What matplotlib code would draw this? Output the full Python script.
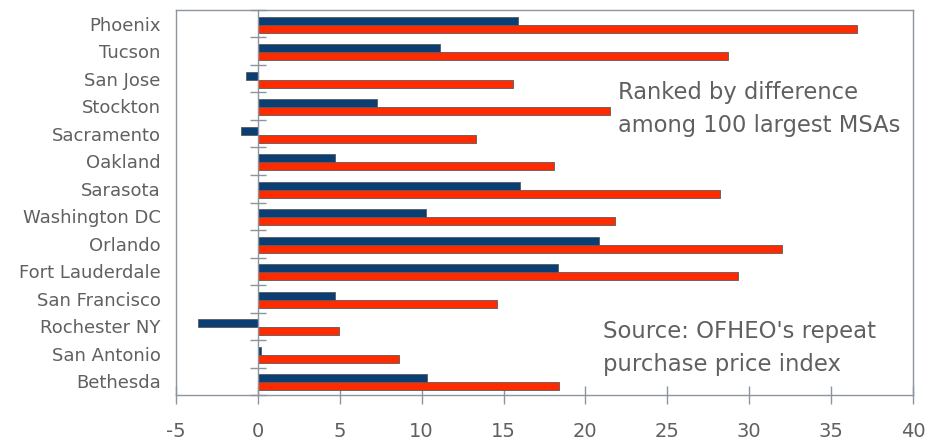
import numpy as np
import matplotlib
matplotlib.use("Agg")
import matplotlib.pyplot as plt

# ====== データ ======
cities = ["Phoenix", "Tucson", "San Jose", "Stockton", "Sacramento", "Oakland",
          "Sarasota", "Washington DC", "Orlando", "Fort Lauderdale",
          "San Francisco", "Rochester NY", "San Antonio", "Bethesda"]
blue_vals = [15.9, 11.1, -0.75, 7.3, -1.0, 4.7, 16.0, 10.25, 20.8, 18.3,
             4.7, -3.65, 0.2, 10.35]
red_vals = [36.6, 28.7, 15.6, 21.5, 13.3, 18.1, 28.2, 21.8, 32.0, 29.3,
            14.6, 4.95, 8.6, 18.4]
xticks = [-5, 0, 5, 10, 15, 20, 25, 30, 35, 40]

# ====== スタイル ======
BLUE = "#0B3F73"
RED = "#FF2B00"
EDGE = "#5a5a5a"
AXIS = "#8C949E"
TEXT = "#606060"
BAR_H = 0.29

fig = plt.figure(figsize=(9.3, 4.42), dpi=100)
ax = fig.add_axes([0.1892, 0.1063, 0.7925, 0.8711])

y = np.arange(len(cities))
ax.barh(y - BAR_H / 2 + 0.03, blue_vals, height=BAR_H, color=BLUE,
        edgecolor=EDGE, linewidth=0.6, zorder=3)
ax.barh(y + BAR_H / 2 + 0.03, red_vals, height=BAR_H, color=RED,
        edgecolor=EDGE, linewidth=0.6, zorder=3)

ax.set_xlim(-5, 40)
ax.set_ylim(len(cities) - 0.5, -0.5)
ax.set_xticks(xticks)
ax.set_xticklabels([str(v) for v in xticks])
ax.set_yticks(y)
ax.set_yticklabels(cities)

for s in ax.spines.values():
    s.set_color(AXIS)
    s.set_linewidth(1.0)

ax.tick_params(axis="y", length=0, pad=11, labelsize=13, labelcolor=TEXT)
ax.tick_params(axis="x", direction="inout", length=13, width=1.0,
               color=AXIS, pad=13, labelsize=14, labelcolor=TEXT)

# ゼロ軸（区切り目盛り付き）
ax2 = ax.twinx()
ax2.set_ylim(ax.get_ylim())
for name in ["top", "bottom", "right"]:
    ax2.spines[name].set_visible(False)
ax2.spines["left"].set_position(("data", 0))
ax2.spines["left"].set_color(AXIS)
ax2.spines["left"].set_linewidth(1.0)
ax2.spines["left"].set_zorder(4)
ax2.yaxis.set_ticks_position("left")
ax2.set_yticks(np.arange(len(cities) + 1) - 0.5)
ax2.set_yticklabels([])
ax2.tick_params(axis="y", direction="inout", length=12, width=1.0, color=AXIS)

ax.text(22.0, 3.1, "Ranked by difference\namong 100 largest MSAs",
        fontsize=16.3, color=TEXT, va="center", ha="left", linespacing=1.55)
ax.text(21.05, 11.79, "Source: OFHEO's repeat\npurchase price index",
        fontsize=16.4, color=TEXT, va="center", ha="left", linespacing=1.55)

fig.savefig("out.png", dpi=100)
